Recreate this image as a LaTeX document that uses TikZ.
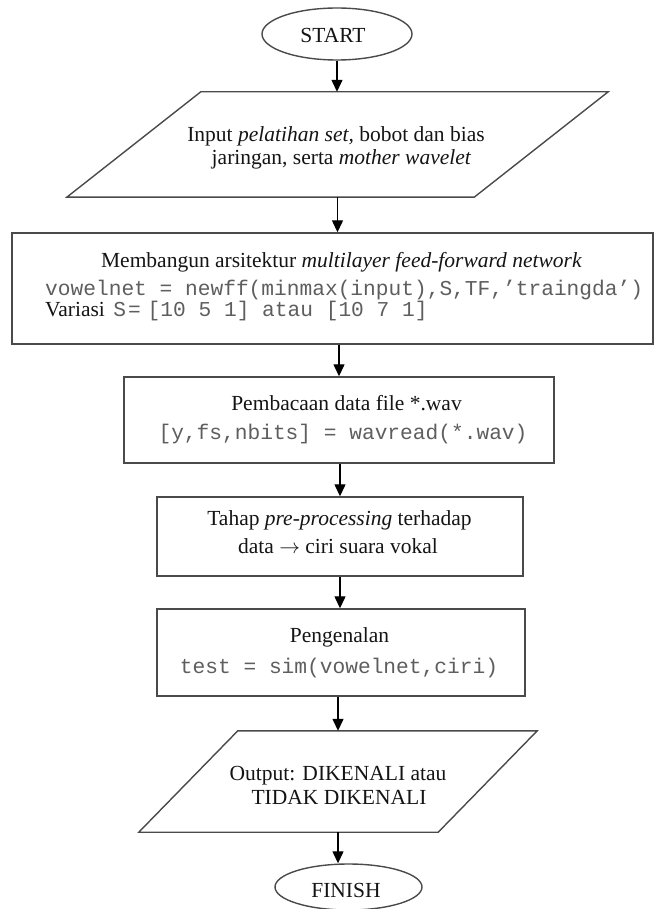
\documentclass[tikz,border=0pt]{standalone}
\usepackage{fontspec}
\setmainfont{Liberation Serif}
\newfontfamily\monofam{Liberation Mono}
\usetikzlibrary{shapes.geometric,arrows.meta,calc}
\definecolor{edgegray}{HTML}{4A4A4A}
\definecolor{codegray}{HTML}{5E5E5E}
\definecolor{inkblack}{HTML}{141414}
\newcommand{\mcode}[1]{{\monofam\fontsize{21.2}{23}\selectfont\color{codegray}#1}}

\begin{document}
\begin{tikzpicture}[x=1pt,y=-1pt,
  every node/.style={font=\fontsize{21.5}{23}\selectfont, text=inkblack},
  edge/.style={draw=edgegray, line width=1.4pt, line join=miter},
  shapebox/.style={edge, rectangle, inner sep=0pt},
  termbox/.style={edge, ellipse, inner sep=0pt},
  frame/.style={inner sep=0pt},
  flow/.style={draw=black, line width=1.3pt, -{Triangle[length=12pt,width=11pt]}},
  lbl/.style={anchor=base, inner sep=0pt}]

\useasboundingbox (0,0) rectangle (655,909);

% terminals
\node[termbox, minimum width=150, minimum height=52] (start) at (337,34) {};
\node[termbox, minimum width=147, minimum height=46] (fin) at (348.5,887) {};

% input parallelogram
\node[frame, minimum width=541, minimum height=105] (in1) at (337.5,144.5) {};
\draw[edge] ([xshift=134pt]in1.north west) -- (in1.north east)
  -- ([xshift=-134pt]in1.south east) -- (in1.south west) -- cycle;

% process boxes
\node[shapebox, minimum width=641, minimum height=111] (arch) at (332.5,288.5) {};
\node[shapebox, minimum width=430, minimum height=86] (read) at (339,420) {};
\node[shapebox, minimum width=366, minimum height=79] (pre) at (340,536.5) {};
\node[shapebox, minimum width=368, minimum height=87] (rec) at (341,652.5) {};

% output parallelogram
\node[frame, minimum width=398, minimum height=101] (out) at (338,781.5) {};
\draw[edge] ([xshift=99pt]out.north west) -- (out.north east)
  -- ([xshift=-99pt]out.south east) -- (out.south west) -- cycle;

% texts
\node[lbl] (t-start) at (333,43) {START};
\node[lbl] (t-in1a) at (336,142) {Input \textit{pelatihan set,} bobot dan bias};
\node[lbl] (t-in1b) at (341.5,165) {jaringan, serta \textit{mother wavelet}};

\node[lbl] (t-arch1) at (341.5,267) {Membangun arsitektur \textit{multilayer feed-forward network}};
\node[lbl, anchor=base west] (t-arch2) at (45,295) {\mcode{vowelnet = newff(minmax(input),S,TF,’traingda’)}};
\node[lbl, anchor=base west] (t-arch3) at (45,316) {Variasi\hspace{3pt} \mcode{S}\hspace{2pt}\mcode{=}\hspace{7pt}\mcode{[10 5 1] atau [10 7 1]}};

\node[lbl] (t-read1) at (346.5,410) {Pembacaan data file *.wav};
\node[lbl] (t-read2) at (343,439) {\mcode{[y,fs,nbits] = wavread(*.wav)}};

\node[lbl] (t-pre1) at (339.5,525) {Tahap \textit{pre-processing} terhadap};
\node[lbl] (t-pre2) at (338,553) {data $\rightarrow$ ciri suara vokal};

\node[lbl] (t-rec1) at (339.5,642) {Pengenalan};
\node[lbl] (t-rec2) at (339,673) {\mcode{test = sim(vowelnet,ciri)}};

\node[lbl] (t-out1) at (338,780) {Output: DIKENALI atau};
\node[lbl] (t-out2) at (339,804) {TIDAK DIKENALI};

\node[lbl] (t-fin) at (346,897) {FINISH};

% connectors
\draw[flow] (start.south) -- (start.south |- in1.north);
\draw[flow] (in1.south) -- (in1.south |- arch.north);
\draw[flow] (arch.south -| read.north) -- (read.north);
\draw[flow] (read.south -| pre.north) -- (pre.north);
\draw[flow] (pre.south) -- (pre.south |- rec.north);
\draw[flow] (rec.south -| out.north) -- (out.north);
\draw[flow] (out.south) -- (out.south |- fin.north);
\end{tikzpicture}
\end{document}
